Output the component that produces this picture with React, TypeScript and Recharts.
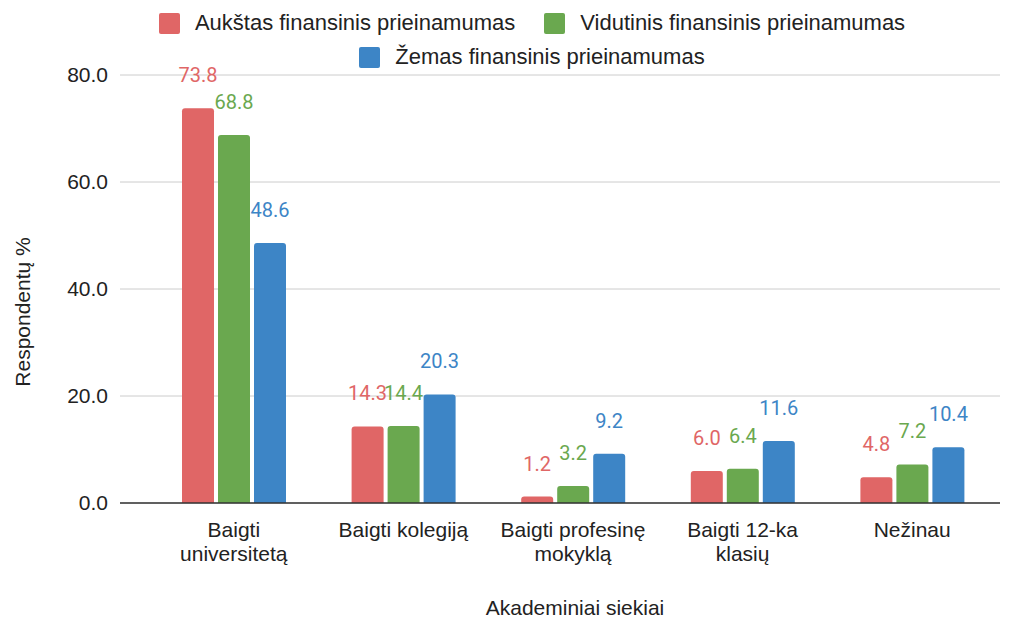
import React from "react";
import {
  BarChart,
  Bar,
  XAxis,
  YAxis,
  CartesianGrid,
  Legend,
  LabelList,
} from "recharts";

const categories = [
  "Baigti universitetą",
  "Baigti kolegiją",
  "Baigti profesinę mokyklą",
  "Baigti 12-ka klasių",
  "Nežinau",
];

// how the category labels break across lines under the axis
const tickLines = [
  ["Baigti", "universitetą"],
  ["Baigti kolegiją"],
  ["Baigti profesinę", "mokyklą"],
  ["Baigti 12-ka", "klasių"],
  ["Nežinau"],
];

const aukstas = [73.8, 14.3, 1.2, 6.0, 4.8];
const vidutinis = [68.8, 14.4, 3.2, 6.4, 7.2];
const zemas = [48.6, 20.3, 9.2, 11.6, 10.4];

const yTicks = [0, 20, 40, 60, 80];

const SERIES = [
  { key: "aukstas", name: "Aukštas finansinis prieinamumas", color: "#e06666" },
  { key: "vidutinis", name: "Vidutinis finansinis prieinamumas", color: "#6aa84f" },
  { key: "zemas", name: "Žemas finansinis prieinamumas", color: "#3d85c6" },
];

const data = categories.map((c, i) => ({
  name: c,
  aukstas: aukstas[i],
  vidutinis: vidutinis[i],
  zemas: zemas[i],
}));

const TEXT = "#222222";

function CategoryTick({ x, y, payload }: any) {
  const lines = tickLines[payload.index] ?? [payload.value];
  return (
    <g>
      {lines.map((l, i) => (
        <text
          key={i}
          x={x}
          y={y + 24 + i * 24}
          textAnchor="middle"
          dominantBaseline="central"
          fontSize={21}
          fill={TEXT}
        >
          {l}
        </text>
      ))}
    </g>
  );
}

function valueLabel(color: string) {
  return (props: any) => {
    const { x, y, width, value } = props;
    return (
      <text
        x={x + width / 2}
        y={y - 33}
        textAnchor="middle"
        dominantBaseline="central"
        fontSize={20}
        fontFamily="Roboto, sans-serif"
        fill={color}
      >
        {Number(value).toFixed(1)}
      </text>
    );
  };
}

function LegendBox() {
  return (
    <div style={{ height: 75, position: "relative" }}>
      <div
        style={{
          position: "absolute",
          left: 112,
          top: 12,
          width: 840,
          display: "flex",
          flexWrap: "wrap",
          justifyContent: "center",
          columnGap: 29,
          rowGap: 12,
        }}
      >
        {SERIES.map((s) => (
          <div
            key={s.key}
            style={{ display: "flex", alignItems: "center", height: 22, fontSize: 22, color: TEXT }}
          >
            <div
              style={{
                width: 21,
                height: 21,
                borderRadius: 2,
                backgroundColor: s.color,
                marginRight: 15,
              }}
            />
            <span style={{ whiteSpace: "nowrap" }}>{s.name}</span>
          </div>
        ))}
      </div>
    </div>
  );
}

export default function App() {
  return (
    <div
      style={{
        position: "absolute",
        left: 0,
        top: 0,
        width: 1015,
        height: 617,
        background: "#fff",
        fontFamily: "'Liberation Sans', Arial, sans-serif",
      }}
    >
      <BarChart
        width={1015}
        height={617}
        data={data}
        margin={{ top: 0, right: 15, bottom: 0, left: 0 }}
        barSize={32}
        barGap={4}
      >
        <Legend verticalAlign="top" align="left" content={() => <LegendBox />} />
        <CartesianGrid vertical={false} stroke="#cccccc" />
        <XAxis
          dataKey="name"
          height={114}
          tick={<CategoryTick />}
          tickLine={false}
          tickSize={0}
          axisLine={{ stroke: "#333333", strokeWidth: 1.5 }}
          padding={{ left: 29, right: 3 }}
          interval={0}
          label={{
            content: () => (
              <text
                x={575}
                y={607}
                textAnchor="middle"
                dominantBaseline="central"
                fontSize={21}
                fill={TEXT}
              >
                Akademiniai siekiai
              </text>
            ),
          }}
        />
        <YAxis
          width={120}
          domain={[0, 80]}
          ticks={yTicks}
          tickFormatter={(v: number) => v.toFixed(1)}
          tick={{ fontSize: 21, fill: TEXT }}
          tickLine={false}
          tickSize={0}
          tickMargin={12}
          axisLine={false}
          label={{
            content: (p: any) => {
              const vb = p.viewBox;
              const cy = vb.y + vb.height / 2 + 23;
              return (
                <text
                  x={22}
                  y={cy}
                  transform={`rotate(-90 22 ${cy})`}
                  textAnchor="middle"
                  dominantBaseline="central"
                  fontSize={21}
                  fill={TEXT}
                >
                  Respondentų %
                </text>
              );
            },
          }}
        />
        {SERIES.map((s) => (
          <Bar
            key={s.key}
            dataKey={s.key}
            name={s.name}
            fill={s.color}
            radius={[3, 3, 0, 0]}
            isAnimationActive={false}
          >
            <LabelList dataKey={s.key} content={valueLabel(s.color)} />
          </Bar>
        ))}
      </BarChart>
    </div>
  );
}
